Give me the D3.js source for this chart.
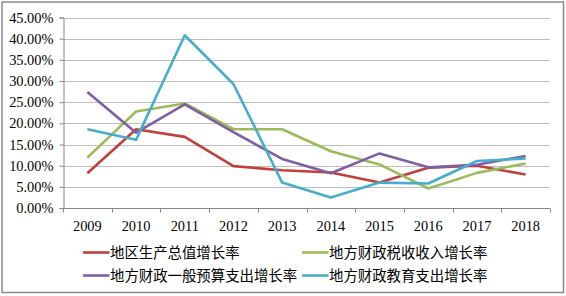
<!DOCTYPE html>
<html><head><meta charset="utf-8">
<script src="https://cdn.jsdelivr.net/npm/d3@7"></script>
<style>
html,body{margin:0;padding:0;background:#fff;}
svg{display:block;}
</style></head>
<body>
<script>
const years = ["2009","2010","2011","2012","2013","2014","2015","2016","2017","2018"];
const gdpGrowth     = [8.2, 18.6, 16.8, 9.9, 8.9, 8.4, 6.0, 9.5, 10.0, 7.9];
const taxGrowth     = [11.9, 22.8, 24.7, 18.6, 18.6, 13.4, 10.3, 4.6, 8.3, 10.5];
const budgetGrowth  = [27.4, 17.8, 24.5, 17.9, 11.6, 8.2, 12.9, 9.6, 10.2, 12.3];
const eduGrowth     = [18.6, 16.1, 40.8, 29.3, 6.0, 2.5, 6.0, 5.8, 11.1, 11.7];
const seriesNames   = ["地区生产总值增长率","地方财政税收收入增长率","地方财政一般预算支出增长率","地方财政教育支出增长率"];
const yTicks = [0,5,10,15,20,25,30,35,40,45];

const series = [
  {name: seriesNames[0], values: gdpGrowth, color: "#C0403D"},
  {name: seriesNames[1], values: taxGrowth, color: "#9BBB59"},
  {name: seriesNames[2], values: budgetGrowth, color: "#7E5FA3"},
  {name: seriesNames[3], values: eduGrowth, color: "#46AECB"}
];

const W = 566, H = 296;
const svg = d3.select("body").append("svg").attr("width", W).attr("height", H);

svg.append("rect").attr("x",2).attr("y",2).attr("width",561.5).attr("height",290.5)
  .attr("fill","#fff").attr("stroke","#8a8a8a").attr("stroke-width",1.5);

const x = d3.scaleBand().domain(years).range([63, 550]);
const y = d3.scaleLinear().domain([0,45]).range([208, 17.5]);

// gridlines
svg.append("g").selectAll("line").data(yTicks.slice(1)).join("line")
  .attr("x1", 63).attr("x2", 550)
  .attr("y1", d=>Math.round(y(d))+0.5).attr("y2", d=>Math.round(y(d))+0.5)
  .attr("stroke","#BEBEBE").attr("stroke-width",1);

// y axis
const yAxis = d3.axisLeft(y).tickValues(yTicks).tickSize(4).tickPadding(6)
  .tickFormat(d => d.toFixed(2) + "%");
const gy = svg.append("g").attr("transform","translate(63.5,0)").call(yAxis);
gy.select(".domain").attr("stroke","#868686");
gy.selectAll(".tick line").attr("stroke","#868686");
gy.selectAll(".tick text").attr("font-family","'Liberation Serif', serif")
  .attr("font-size","14.4px").attr("fill","#000");

// x axis
const gx = svg.append("g").attr("transform","translate(0,208.5)");
gx.append("line").attr("x1",63).attr("x2",550).attr("y1",0).attr("y2",0).attr("stroke","#868686");
const bounds = years.map(d=>x(d)).concat([x.range()[1]]);
gx.selectAll("line.tk").data(bounds).join("line").attr("class","tk")
  .attr("x1",d=>Math.round(d)+0.5).attr("x2",d=>Math.round(d)+0.5).attr("y1",0).attr("y2",4)
  .attr("stroke","#868686");
gx.selectAll("text").data(years).join("text")
  .attr("x", d=>x(d)+x.bandwidth()/2).attr("y", 22)
  .attr("text-anchor","middle").attr("font-family","'Liberation Serif', serif")
  .attr("font-size","14.4px").attr("fill","#000").text(d=>d);

// lines
const line = d3.line().x((d,i)=>x(years[i])+x.bandwidth()/2).y(d=>y(d));
svg.append("g").selectAll("path").data(series).join("path")
  .attr("d", d=>line(d.values)).attr("fill","none")
  .attr("stroke", d=>d.color).attr("stroke-width",2.6).attr("stroke-linejoin","round");

// legend
const legPos = [[83,252.5],[302,252.5],[83,275.5],[302,275.5]];
const lg = svg.append("g").selectAll("g").data(series).join("g")
  .attr("transform",(d,i)=>`translate(${legPos[i][0]},${legPos[i][1]})`);
lg.append("line").attr("x1",0).attr("x2",26.5).attr("y1",0).attr("y2",0)
  .attr("stroke",d=>d.color).attr("stroke-width",2.6);
lg.append("text").attr("x",27).attr("y",0).attr("dy","0.36em")
  .attr("font-family","'Noto Sans CJK SC', sans-serif").attr("font-size","14.4px")
  .attr("fill","#000").text(d=>d.name);
</script>
</body></html>
